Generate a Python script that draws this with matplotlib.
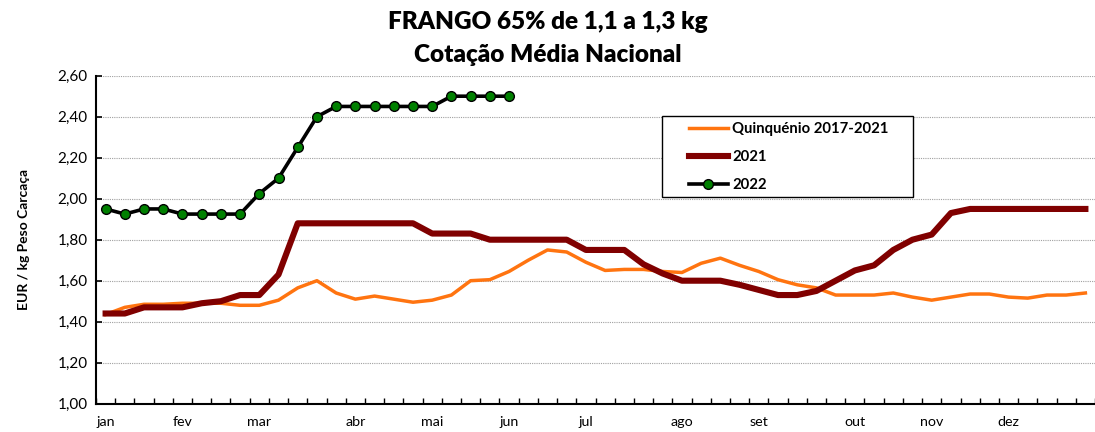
import matplotlib
matplotlib.use("Agg")
import matplotlib.pyplot as plt
from matplotlib.ticker import FixedLocator, FuncFormatter
from matplotlib.patches import Rectangle
import numpy as np

plt.rcParams['font.family'] = ['Lato', 'DejaVu Sans']

# ---- data ----
months = ["jan", "fev", "mar", "abr", "mai", "jun", "jul", "ago", "set", "out", "nov", "dez"]
month_pos = [0, 4, 8, 13, 17, 21, 25, 30, 34, 39, 43, 47]
n_weeks = 52

quinquenio = [1.435, 1.47, 1.485, 1.485, 1.49, 1.49, 1.49, 1.48, 1.48, 1.505,
              1.565, 1.60, 1.54, 1.51, 1.525, 1.51, 1.495, 1.505, 1.53, 1.60,
              1.605, 1.645, 1.70, 1.75, 1.74, 1.69, 1.65, 1.655, 1.655, 1.645,
              1.64, 1.685, 1.71, 1.675, 1.645, 1.605, 1.58, 1.565, 1.53, 1.53,
              1.53, 1.54, 1.52, 1.505, 1.52, 1.535, 1.535, 1.52, 1.515, 1.53,
              1.53, 1.54]
y2021 = [1.44, 1.44, 1.47, 1.47, 1.47, 1.49, 1.50, 1.53, 1.53, 1.63,
         1.88, 1.88, 1.88, 1.88, 1.88, 1.88, 1.88, 1.83, 1.83, 1.83,
         1.80, 1.80, 1.80, 1.80, 1.80, 1.75, 1.75, 1.75, 1.68, 1.635,
         1.60, 1.60, 1.60, 1.58, 1.555, 1.53, 1.53, 1.55, 1.60, 1.65,
         1.675, 1.75, 1.80, 1.825, 1.93, 1.95, 1.95, 1.95, 1.95, 1.95,
         1.95, 1.95]
y2022 = [1.95, 1.925, 1.95, 1.95, 1.925, 1.925, 1.925, 1.925, 2.025, 2.10,
         2.25, 2.40, 2.45, 2.45, 2.45, 2.45, 2.45, 2.45, 2.50, 2.50,
         2.50, 2.50]

W, H = 1095, 432
fig = plt.figure(figsize=(W / 100, H / 100), dpi=100)
ax = fig.add_axes([96/W, 1-403.7/H, (W-96)/W, (403.7-75.7)/H])

x = np.arange(n_weeks)
ax.plot(x, quinquenio, color="#FF7410", lw=2.5, label="Quinquénio 2017-2021", zorder=3)
ax.plot(x, y2021, color="#800000", lw=4.4, label="2021", zorder=4)
ax.plot(np.arange(len(y2022)), y2022, color="black", lw=2.6, marker="o",
        markersize=7, markerfacecolor="#008000", markeredgecolor="black",
        markeredgewidth=1.0, label="2022", zorder=5)

ax.set_xlim(-0.5, n_weeks - 0.5)
ax.set_ylim(1.0, 2.6)
ax.set_yticks(np.arange(1.0, 2.61, 0.2))
ax.yaxis.set_major_formatter(FuncFormatter(lambda v, p: f"{v:.2f}".replace(".", ",")))
ax.grid(axis="y", color="#a0a0a0", linestyle=(0, (1, 1)), linewidth=0.8)
ax.set_axisbelow(True)

ax.set_xticks(month_pos)
ax.set_xticklabels(months)
ax.xaxis.set_minor_locator(FixedLocator(np.arange(-0.5, n_weeks, 1.0)))
ax.tick_params(axis="x", which="major", length=0, pad=9, labelsize=10.3)
ax.tick_params(axis="x", which="minor", direction="in", length=4, width=1)
ax.tick_params(axis="y", which="major", direction="in", length=4, width=1.2, labelsize=11, pad=6)

for s in ["top", "right"]:
    ax.spines[s].set_visible(False)
ax.spines["left"].set_linewidth(1.5)
ax.spines["bottom"].set_linewidth(1.5)

ax.set_ylabel("EUR / kg Peso Carcaça", fontsize=10, fontweight="bold", labelpad=20)

fig.text(0.5, 1 - 22/H, "FRANGO 65% de 1,1 a 1,3 kg", ha="center", va="center",
         fontsize=17.5, fontweight="heavy")
fig.text(0.5, 1 - 55/H, "Cotação Média Nacional", ha="center", va="center",
         fontsize=17.5, fontweight="heavy")

# legend frame (drawn separately) and entries
def ax_x(px):
    return (px - 96) / 999
def ax_y(py):
    return 1 - (py - 75.7) / 328

box = Rectangle((ax_x(661.7), ax_y(197)), ax_x(913) - ax_x(661.7), ax_y(115.7) - ax_y(197),
                transform=ax.transAxes, facecolor="white", edgecolor="black",
                linewidth=1.0, zorder=9)
ax.add_patch(box)
leg = ax.legend(loc="upper left", bbox_to_anchor=(ax_x(689), ax_y(122.5)),
                frameon=False, prop={"weight": "bold", "size": 10.7},
                handlelength=2.6, labelspacing=0.92, borderpad=0.0,
                handletextpad=0.3, borderaxespad=0)
leg.set_zorder(10)

fig.savefig("out.png", dpi=100)
